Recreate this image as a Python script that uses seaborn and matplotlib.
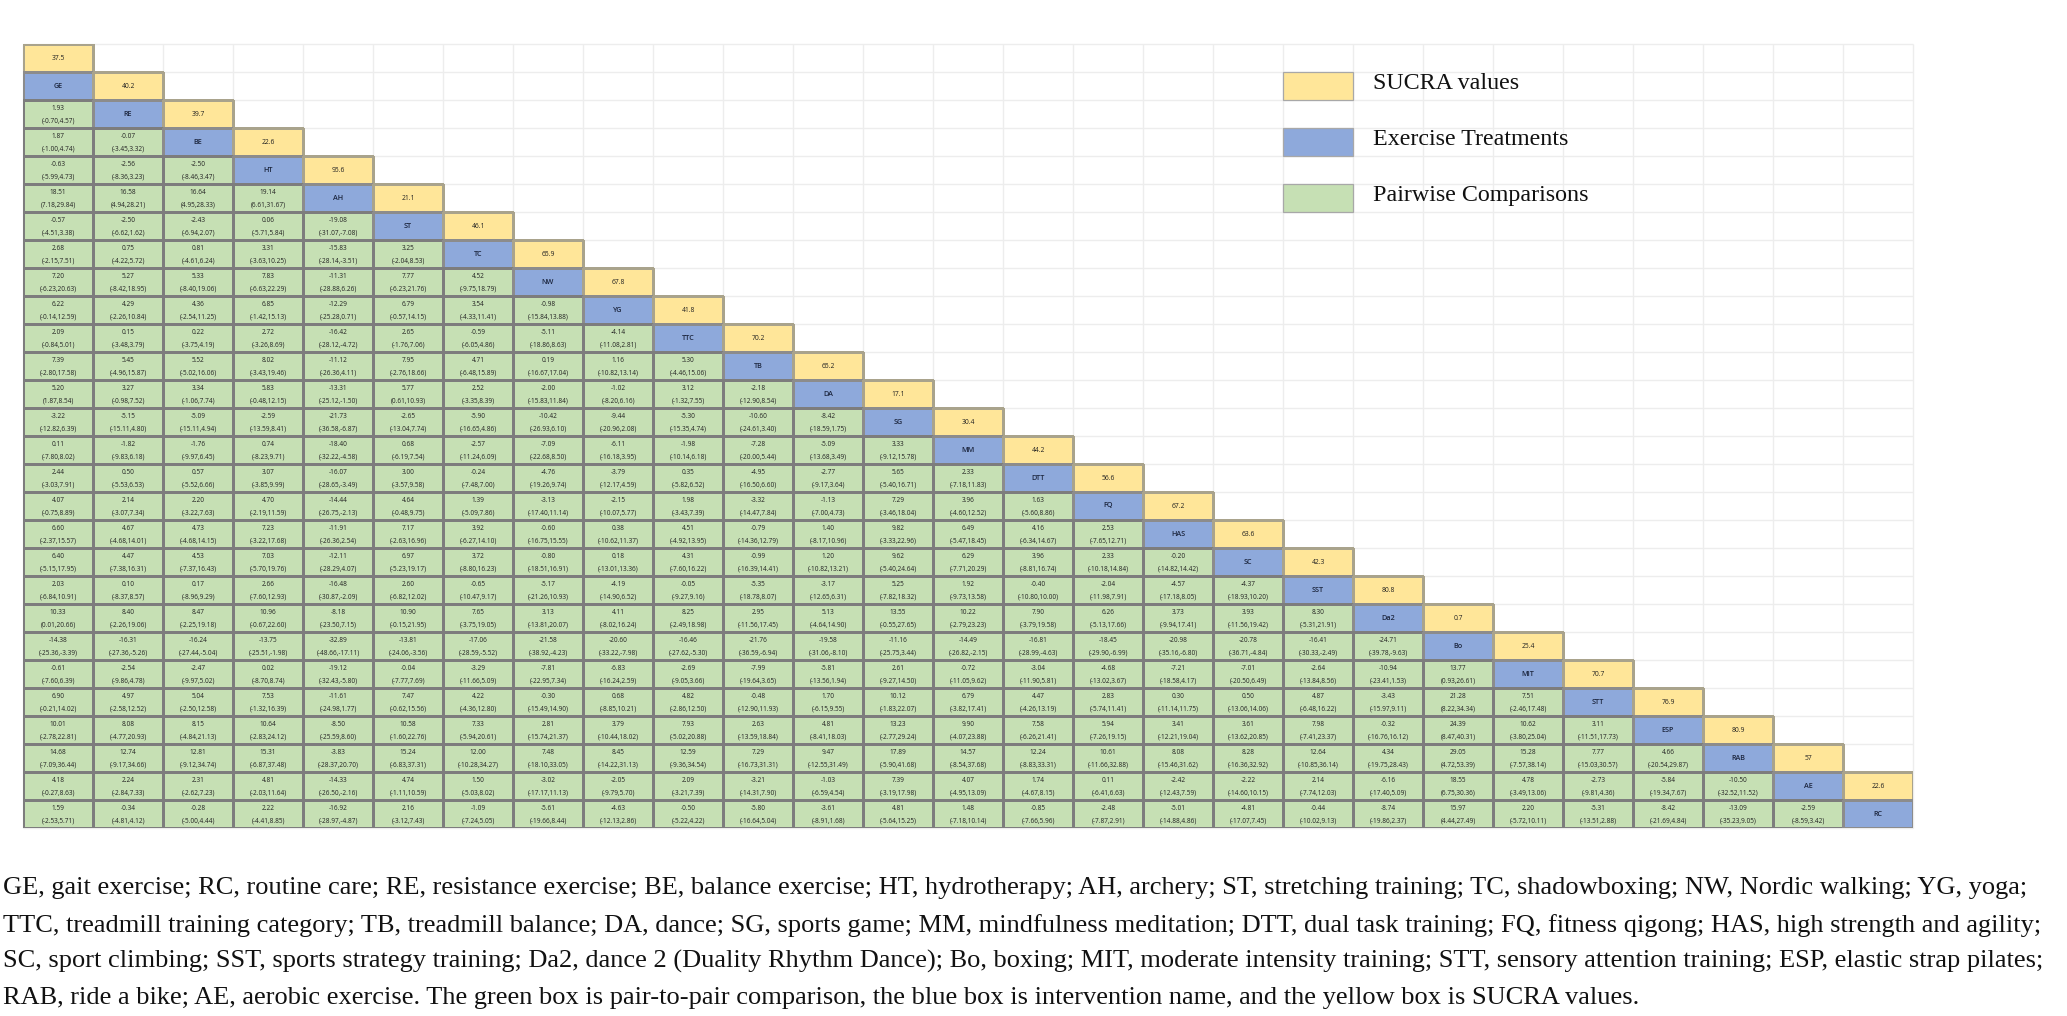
import numpy as np
import matplotlib
matplotlib.use("Agg")
import matplotlib.pyplot as plt
from matplotlib.colors import ListedColormap, to_rgba
from matplotlib.collections import QuadMesh
from matplotlib.patches import Rectangle
import seaborn as sns

# tratamentos (ordem da tabela) e valores SUCRA
tratamentos = ["GE", "RE", "BE", "HT", "AH", "ST", "TC", "NW", "YG", "TTC", "TB", "DA", "SG", "MM",
               "DTT", "FQ", "HAS", "SC", "SST", "Da2", "Bo", "MIT", "STT", "ESP", "RAB", "AE", "RC"]
sucra = [37.5, 40.2, 39.7, 22.6, 95.6, 21.1, 46.1, 65.9, 67.8, 41.8, 70.2, 65.2, 17.1, 30.4,
         44.2, 56.6, 67.2, 63.6, 42.3, 80.8, 0.7, 25.4, 70.7, 76.9, 80.9, 57, 22.6]

# comparacoes par a par: linha i = tratamento i contra os tratamentos 0..i-1
estimativa = [
    [],
    [1.93],
    [1.87, -0.07],
    [-0.63, -2.56, -2.50],
    [18.51, 16.58, 16.64, 19.14],
    [-0.57, -2.50, -2.43, 0.06, -19.08],
    [2.68, 0.75, 0.81, 3.31, -15.83, 3.25],
    [7.20, 5.27, 5.33, 7.83, -11.31, 7.77, 4.52],
    [6.22, 4.29, 4.36, 6.85, -12.29, 6.79, 3.54, -0.98],
    [2.09, 0.15, 0.22, 2.72, -16.42, 2.65, -0.59, -5.11, -4.14],
    [7.39, 5.45, 5.52, 8.02, -11.12, 7.95, 4.71, 0.19, 1.16, 5.30],
    [5.20, 3.27, 3.34, 5.83, -13.31, 5.77, 2.52, -2.00, -1.02, 3.12, -2.18],
    [-3.22, -5.15, -5.09, -2.59, -21.73, -2.65, -5.90, -10.42, -9.44, -5.30, -10.60, -8.42],
    [0.11, -1.82, -1.76, 0.74, -18.40, 0.68, -2.57, -7.09, -6.11, -1.98, -7.28, -5.09, 3.33],
    [2.44, 0.50, 0.57, 3.07, -16.07, 3.00, -0.24, -4.76, -3.79, 0.35, -4.95, -2.77, 5.65, 2.33],
    [4.07, 2.14, 2.20, 4.70, -14.44, 4.64, 1.39, -3.13, -2.15, 1.98, -3.32, -1.13, 7.29, 3.96, 1.63],
    [6.60, 4.67, 4.73, 7.23, -11.91, 7.17, 3.92, -0.60, 0.38, 4.51, -0.79, 1.40, 9.82, 6.49, 4.16, 2.53],
    [6.40, 4.47, 4.53, 7.03, -12.11, 6.97, 3.72, -0.80, 0.18, 4.31, -0.99, 1.20, 9.62, 6.29, 3.96, 2.33, -0.20],
    [2.03, 0.10, 0.17, 2.66, -16.48, 2.60, -0.65, -5.17, -4.19, -0.05, -5.35, -3.17, 5.25, 1.92, -0.40, -2.04,
     -4.57, -4.37],
    [10.33, 8.40, 8.47, 10.96, -8.18, 10.90, 7.65, 3.13, 4.11, 8.25, 2.95, 5.13, 13.55, 10.22, 7.90, 6.26,
     3.73, 3.93, 8.30],
    [-14.38, -16.31, -16.24, -13.75, -32.89, -13.81, -17.06, -21.58, -20.60, -16.46, -21.76, -19.58, -11.16,
     -14.49, -16.81, -18.45, -20.98, -20.78, -16.41, -24.71],
    [-0.61, -2.54, -2.47, 0.02, -19.12, -0.04, -3.29, -7.81, -6.83, -2.69, -7.99, -5.81, 2.61, -0.72, -3.04,
     -4.68, -7.21, -7.01, -2.64, -10.94, 13.77],
    [6.90, 4.97, 5.04, 7.53, -11.61, 7.47, 4.22, -0.30, 0.68, 4.82, -0.48, 1.70, 10.12, 6.79, 4.47, 2.83,
     0.30, 0.50, 4.87, -3.43, 21.28, 7.51],
    [10.01, 8.08, 8.15, 10.64, -8.50, 10.58, 7.33, 2.81, 3.79, 7.93, 2.63, 4.81, 13.23, 9.90, 7.58, 5.94,
     3.41, 3.61, 7.98, -0.32, 24.39, 10.62, 3.11],
    [14.68, 12.74, 12.81, 15.31, -3.83, 15.24, 12.00, 7.48, 8.45, 12.59, 7.29, 9.47, 17.89, 14.57, 12.24,
     10.61, 8.08, 8.28, 12.64, 4.34, 29.05, 15.28, 7.77, 4.66],
    [4.18, 2.24, 2.31, 4.81, -14.33, 4.74, 1.50, -3.02, -2.05, 2.09, -3.21, -1.03, 7.39, 4.07, 1.74, 0.11,
     -2.42, -2.22, 2.14, -6.16, 18.55, 4.78, -2.73, -5.84, -10.50],
    [1.59, -0.34, -0.28, 2.22, -16.92, 2.16, -1.09, -5.61, -4.63, -0.50, -5.80, -3.61, 4.81, 1.48, -0.85,
     -2.48, -5.01, -4.81, -0.44, -8.74, 15.97, 2.20, -5.31, -8.42, -13.09, -2.59],
]

ic_inf = [
    [],
    [-0.70],
    [-1.00, -3.45],
    [-5.99, -8.36, -8.46],
    [7.18, 4.94, 4.95, 6.61],
    [-4.51, -6.62, -6.94, -5.71, -31.07],
    [-2.15, -4.22, -4.61, -3.63, -28.14, -2.04],
    [-6.23, -8.42, -8.40, -6.63, -28.88, -6.23, -9.75],
    [-0.14, -2.26, -2.54, -1.42, -25.28, -0.57, -4.33, -15.84],
    [-0.84, -3.48, -3.75, -3.26, -28.12, -1.76, -6.05, -18.86, -11.08],
    [-2.80, -4.96, -5.02, -3.43, -26.36, -2.76, -6.48, -16.67, -10.82, -4.46],
    [1.87, -0.98, -1.06, -0.48, -25.12, 0.61, -3.35, -15.83, -8.20, -1.32, -12.90],
    [-12.82, -15.11, -15.11, -13.59, -36.58, -13.04, -16.65, -26.93, -20.96, -15.35, -24.61, -18.59],
    [-7.80, -9.83, -9.97, -8.23, -32.22, -6.19, -11.24, -22.68, -16.18, -10.14, -20.00, -13.68, -9.12],
    [-3.03, -5.53, -5.52, -3.85, -28.65, -3.57, -7.48, -19.26, -12.17, -5.82, -16.50, -9.17, -5.40, -7.18],
    [-0.75, -3.07, -3.22, -2.19, -26.75, -0.48, -5.09, -17.40, -10.07, -3.43, -14.47, -7.00, -3.46, -4.60,
     -5.60],
    [-2.37, -4.68, -4.68, -3.22, -26.36, -2.63, -6.27, -16.75, -10.62, -4.92, -14.36, -8.17, -3.33, -5.47,
     -6.34, -7.65],
    [-5.15, -7.38, -7.37, -5.70, -28.29, -5.23, -8.80, -18.51, -13.01, -7.60, -16.39, -10.82, -5.40, -7.71,
     -8.81, -10.18, -14.82],
    [-6.84, -8.37, -8.96, -7.60, -30.87, -6.82, -10.47, -21.26, -14.90, -9.27, -18.78, -12.65, -7.82, -9.73,
     -10.80, -11.98, -17.18, -18.93],
    [0.01, -2.26, -2.25, -0.67, -23.50, -0.15, -3.75, -13.81, -8.02, -2.49, -11.56, -4.64, -0.55, -2.79,
     -3.79, -5.13, -9.94, -11.56, -5.31],
    [-25.36, -27.36, -27.44, -25.51, -48.66, -24.06, -28.59, -38.92, -33.22, -27.62, -36.59, -31.06, -25.75,
     -26.82, -28.99, -29.90, -35.16, -36.71, -30.33, -39.78],
    [-7.60, -9.86, -9.97, -8.70, -32.43, -7.77, -11.66, -22.95, -16.24, -9.05, -19.64, -13.56, -9.27, -11.05,
     -11.90, -13.02, -18.58, -20.50, -13.84, -23.41, 0.93],
    [-0.21, -2.58, -2.50, -1.32, -24.98, -0.62, -4.36, -15.49, -8.85, -2.86, -12.90, -6.15, -1.83, -3.82,
     -4.26, -5.74, -11.14, -13.06, -6.48, -15.97, 8.22, -2.46],
    [-2.78, -4.77, -4.84, -2.83, -25.59, -1.60, -5.94, -15.74, -10.44, -5.02, -13.59, -8.41, -2.77, -4.07,
     -6.26, -7.26, -12.21, -13.62, -7.41, -16.76, 8.47, -3.80, -11.51],
    [-7.09, -9.17, -9.12, -6.87, -28.37, -6.83, -10.28, -18.10, -14.22, -9.36, -16.73, -12.55, -5.90, -8.54,
     -8.83, -11.66, -15.46, -16.36, -10.85, -19.75, 4.72, -7.57, -15.03, -20.54],
    [-0.27, -2.84, -2.62, -2.03, -26.50, -1.11, -5.03, -17.17, -9.79, -3.21, -14.31, -6.59, -3.19, -4.95,
     -4.67, -6.41, -12.43, -14.60, -7.74, -17.40, 6.75, -3.49, -9.81, -19.34, -32.52],
    [-2.53, -4.81, -5.00, -4.41, -28.97, -3.12, -7.24, -19.66, -12.13, -5.22, -16.64, -8.91, -5.64, -7.18,
     -7.66, -7.87, -14.88, -17.07, -10.02, -19.86, 4.44, -5.72, -13.51, -21.69, -35.23, -8.59],
]

ic_sup = [
    [],
    [4.57],
    [4.74, 3.32],
    [4.73, 3.23, 3.47],
    [29.84, 28.21, 28.33, 31.67],
    [3.38, 1.62, 2.07, 5.84, -7.08],
    [7.51, 5.72, 6.24, 10.25, -3.51, 8.53],
    [20.63, 18.95, 19.06, 22.29, 6.26, 21.76, 18.79],
    [12.59, 10.84, 11.25, 15.13, 0.71, 14.15, 11.41, 13.88],
    [5.01, 3.79, 4.19, 8.69, -4.72, 7.06, 4.86, 8.63, 2.81],
    [17.58, 15.87, 16.06, 19.46, 4.11, 18.66, 15.89, 17.04, 13.14, 15.06],
    [8.54, 7.52, 7.74, 12.15, -1.50, 10.93, 8.39, 11.84, 6.16, 7.55, 8.54],
    [6.39, 4.80, 4.94, 8.41, -6.87, 7.74, 4.86, 6.10, 2.08, 4.74, 3.40, 1.75],
    [8.02, 6.18, 6.45, 9.71, -4.58, 7.54, 6.09, 8.50, 3.95, 6.18, 5.44, 3.49, 15.78],
    [7.91, 6.53, 6.66, 9.99, -3.49, 9.58, 7.00, 9.74, 4.59, 6.52, 6.60, 3.64, 16.71, 11.83],
    [8.89, 7.34, 7.63, 11.59, -2.13, 9.75, 7.86, 11.14, 5.77, 7.39, 7.84, 4.73, 18.04, 12.52, 8.86],
    [15.57, 14.01, 14.15, 17.68, 2.54, 16.96, 14.10, 15.55, 11.37, 13.95, 12.79, 10.96, 22.96, 18.45, 14.67,
     12.71],
    [17.95, 16.31, 16.43, 19.76, 4.07, 19.17, 16.23, 16.91, 13.36, 16.22, 14.41, 13.21, 24.64, 20.29, 16.74,
     14.84, 14.42],
    [10.91, 8.57, 9.29, 12.93, -2.09, 12.02, 9.17, 10.93, 6.52, 9.16, 8.07, 6.31, 18.32, 13.58, 10.00, 7.91,
     8.05, 10.20],
    [20.66, 19.06, 19.18, 22.60, 7.15, 21.95, 19.05, 20.07, 16.24, 18.98, 17.45, 14.90, 27.65, 23.23, 19.58,
     17.66, 17.41, 19.42, 21.91],
    [-3.39, -5.26, -5.04, -1.98, -17.11, -3.56, -5.52, -4.23, -7.98, -5.30, -6.94, -8.10, 3.44, -2.15, -4.63,
     -6.99, -6.80, -4.84, -2.49, -9.63],
    [6.39, 4.78, 5.02, 8.74, -5.80, 7.69, 5.09, 7.34, 2.59, 3.66, 3.65, 1.94, 14.50, 9.62, 5.81, 3.67, 4.17,
     6.49, 8.56, 1.53, 26.61],
    [14.02, 12.52, 12.58, 16.39, 1.77, 15.56, 12.80, 14.90, 10.21, 12.50, 11.93, 9.55, 22.07, 17.41, 13.19,
     11.41, 11.75, 14.06, 16.22, 9.11, 34.34, 17.48],
    [22.81, 20.93, 21.13, 24.12, 8.60, 22.76, 20.61, 21.37, 18.02, 20.88, 18.84, 18.03, 29.24, 23.88, 21.41,
     19.15, 19.04, 20.85, 23.37, 16.12, 40.31, 25.04, 17.73],
    [36.44, 34.66, 34.74, 37.48, 20.70, 37.31, 34.27, 33.05, 31.13, 34.54, 31.31, 31.49, 41.68, 37.68, 33.31,
     32.88, 31.62, 32.92, 36.14, 28.43, 53.39, 38.14, 30.57, 29.87],
    [8.63, 7.33, 7.23, 11.64, -2.16, 10.59, 8.02, 11.13, 5.70, 7.39, 7.90, 4.54, 17.98, 13.09, 8.15, 6.63,
     7.59, 10.15, 12.03, 5.09, 30.36, 13.06, 4.36, 7.67, 11.52],
    [5.71, 4.12, 4.44, 8.85, -4.87, 7.43, 5.05, 8.44, 2.86, 4.22, 5.04, 1.68, 15.25, 10.14, 5.96, 2.91, 4.86,
     7.45, 9.13, 2.37, 27.49, 10.11, 2.88, 4.84, 9.05, 3.42],
]

legenda = ["SUCRA values", "Exercise Treatments", "Pairwise Comparisons"]

legenda_texto = [
    "GE, gait exercise; RC, routine care; RE, resistance exercise; BE, balance exercise; HT, hydrotherapy; "
    "AH, archery; ST, stretching training; TC, shadowboxing; NW, Nordic walking; YG, yoga;",
    "TTC, treadmill training category; TB, treadmill balance; DA, dance; SG, sports game; MM, mindfulness "
    "meditation; DTT, dual task training; FQ, fitness qigong; HAS, high strength and agility;",
    "SC, sport climbing; SST, sports strategy training; Da2, dance 2 (Duality Rhythm Dance); Bo, boxing; "
    "MIT, moderate intensity training; STT, sensory attention training; ESP, elastic strap pilates;",
    "RAB, ride a bike; AE, aerobic exercise. The green box is pair-to-pair comparison, the blue box is "
    "intervention name, and the yellow box is SUCRA values.",
]

AMARELO = "#FFE699"
AZUL = "#8EA9DB"
VERDE = "#C6E0B4"

sns.set_style("white")
plt.rcParams["font.family"] = ["Open Sans", "DejaVu Sans"]

W, H = 2067, 1016
n = len(tratamentos)

# matriz de categorias: 1 = SUCRA, 2 = tratamento, 3 = comparacao
tipo = np.full((n + 1, n), np.nan)
for i in range(n):
    tipo[i, i] = 1
    tipo[i + 1, i] = 2
    for j in range(i):
        tipo[i + 1, j] = 3
vazio = np.isnan(tipo)

fig = plt.figure(figsize=(W / 100, H / 100), dpi=100)
ax = fig.add_axes([23 / W, 1 - 828 / H, 1890 / W, 784 / H])

# linhas de grade claras (planilha) atras das celulas
ax.hlines(np.arange(n + 2), 0, n, color="#ededed", lw=1, zorder=0, clip_on=False)
ax.vlines(np.arange(n + 1), 0, n + 1, color="#ededed", lw=1, zorder=0, clip_on=False)

sns.heatmap(tipo, mask=vazio, cmap=ListedColormap([AMARELO, AZUL, VERDE]),
            vmin=0.5, vmax=3.5, cbar=False, linewidths=0.9, linecolor="#7d7d7d",
            xticklabels=False, yticklabels=False, ax=ax)
# sem borda nas celulas vazias
malha = [c for c in ax.collections if isinstance(c, QuadMesh)][0]
bordas = np.tile(to_rgba("#7d7d7d"), (vazio.size, 1))
bordas[vazio.ravel()] = (0, 0, 0, 0)
bordas[(tipo == 1).ravel()] = to_rgba("#a9a38c")
bordas[(tipo == 2).ravel()] = to_rgba("#8c8c8c")
malha.set_edgecolor(bordas)

ax.set_xlim(0, n)
ax.set_ylim(n + 1, 0)
ax.tick_params(length=0)

cor_txt = "#222222"
for i in range(n):
    ax.text(i + 0.5, i + 0.5, f"{sucra[i]:g}", ha="center", va="center",
            fontsize=4.9, color=cor_txt)
    ax.text(i + 0.5, i + 1.5, tratamentos[i], ha="center", va="center",
            fontsize=5.2, fontweight="semibold", color="#1d2740")
    for j in range(i):
        ax.text(j + 0.5, i + 1.31, f"{estimativa[i][j]:.2f}", ha="center", va="center",
                fontsize=4.7, color=cor_txt)
        ax.text(j + 0.5, i + 1.75, f"({ic_inf[i][j]:.2f},{ic_sup[i][j]:.2f})", ha="center",
                va="center", fontsize=4.7, color=cor_txt)

# legenda em celulas da coluna 18
for k, (rot, cor) in enumerate(zip(legenda, [AMARELO, AZUL, VERDE])):
    linha = 1 + 2 * k
    ax.add_patch(Rectangle((18, linha), 1, 1, facecolor=cor, edgecolor="#a8a8a8", lw=0.9, zorder=3))
    ax.text(19.29, linha + 0.4, rot, ha="left", va="center", fontsize=17.3,
            family="Liberation Serif", color="#111111")

# nota de rodape, tamanho ajustado a largura da primeira linha
renderer = fig.canvas.get_renderer()
t0 = fig.text(0, 0, legenda_texto[0], fontsize=18, family="Liberation Serif")
largura = t0.get_window_extent(renderer).width
t0.remove()
tam = 18 * 2024 / largura

for k, linha_txt in enumerate(legenda_texto):
    base = [894, 932, 968, 1004][k]
    fig.text(3 / W, 1 - base / H, linha_txt, ha="left", va="baseline", fontsize=tam,
             family="Liberation Serif", color="#111111")

fig.savefig("out.png", dpi=100)
